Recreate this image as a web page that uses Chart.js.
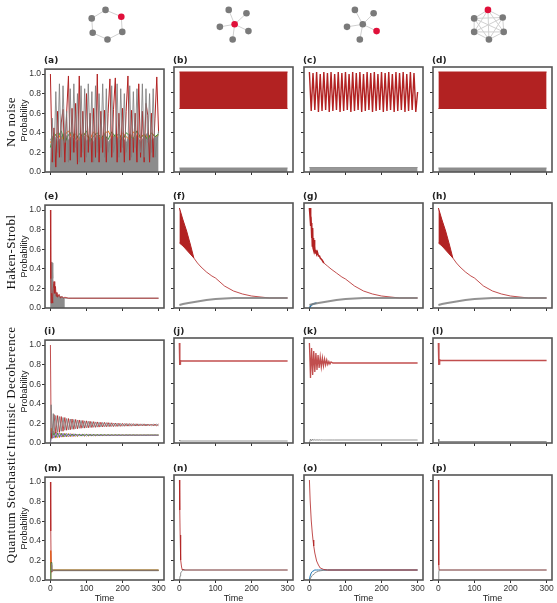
<!DOCTYPE html>
<html><head><meta charset="utf-8">
<script src="https://cdn.jsdelivr.net/npm/chart.js@4"></script>
<style>
body{margin:0;width:557px;height:603px;position:relative;background:#fff;overflow:hidden;font-family:'DejaVu Sans'}
canvas{position:absolute}
.lab{position:absolute;font:bold 9px 'DejaVu Sans';color:#222}
.row{position:absolute;font:13px 'Liberation Serif';color:#111;letter-spacing:0.4px;transform:rotate(-90deg);white-space:nowrap;width:160px;height:16px;line-height:16px;text-align:center}
</style></head><body>
<canvas id="icons" width="557" height="52" style="left:0;top:0"></canvas>
<script>
// ---- data ----
const X_TICKS = [0, 100, 200, 300];
const Y_TICKS = [0, 0.2, 0.4, 0.6, 0.8, 1.0];
const ROW_TITLES = ['No noise', 'Haken-Strobl', 'Intrinsic Decoherence', 'Quantum Stochastic'];
const PANEL_LABELS = ['(a)','(b)','(c)','(d)','(e)','(f)','(g)','(h)','(i)','(j)','(k)','(l)','(m)','(n)','(o)','(p)'];

// graph icons: node positions and edges
const ringNodes = [[103,7],[119,15],[120,33],[105,42],[90,34],[89,17]];
const ringEdges = [[0,1],[1,2],[2,3],[3,4],[4,5],[5,0]];
const ringRed = 1;
const starNodes = [[234,24],[228,7],[246,11],[219,27],[248,32],[232,42]];
const starEdges = [[0,1],[0,2],[0,3],[0,4],[0,5]];
const starRed = 0;
const leafNodes = [[364,24],[356,7],[375,11],[348,27],[378,32],[361,42]];
const leafEdges = [[0,1],[0,2],[0,3],[0,4],[0,5]];
const leafRed = 4;
const fullNodes = [[491,7],[506,16],[507,33],[492,42],[477,33],[477,17]];
const fullEdges = [[0,1],[0,2],[0,3],[0,4],[0,5],[1,2],[1,3],[1,4],[1,5],[2,3],[2,4],[2,5],[3,4],[3,5],[4,5]];
const fullRed = 0;

const T5 = [0,5,10,15,20,25,30,35,40,45,50,55,60,65,70,75,80,85,90,95,100,105,110,115,120,125,130,135,140,145,150,155,160,165,170,175,180,185,190,195,200,205,210,215,220,225,230,235,240,245,250,255,260,265,270,275,280,285,290,295,300];
const T10 = [0,10,20,30,40,50,60,70,80,90,100,110,120,130,140,150,160,170,180,190,200,210,220,230,240,250,260,270,280,290,300];

// (a)
const redA = [1.0,0.1,0.45,0.05,0.62,0.15,0.5,0.64,0.1,0.6,0.98,0.12,0.65,0.2,0.7,0.08,0.98,0.15,0.62,0.1,0.8,0.2,0.6,0.1,0.65,0.15,1.0,0.1,0.62,0.2,0.63,0.1,0.6,0.95,0.15,0.64,0.96,0.1,0.6,0.2,0.65,0.1,0.62,0.98,0.12,0.63,0.2,0.6,0.1,0.9,0.15,0.62,0.1,0.7,0.58,0.1,0.6,0.15,0.55,0.97,0.4];
const grayA = [0.0,0.55,0.1,0.82,0.2,0.9,0.15,0.88,0.3,0.62,0.1,0.85,0.2,0.9,0.25,0.8,0.1,0.88,0.2,0.85,0.15,0.9,0.3,0.82,0.1,0.88,0.2,0.8,0.25,0.9,0.15,0.85,0.2,0.3,0.88,0.2,0.3,0.9,0.15,0.85,0.25,0.8,0.2,0.3,0.88,0.15,0.82,0.25,0.85,0.3,0.2,0.9,0.15,0.85,0.3,0.8,0.2,0.85,0.15,0.3,0.42];
const grayFillA = [0.33,0.38,0.3,0.36,0.4,0.32,0.37,0.29,0.35,0.4,0.31,0.36,0.3,0.38,0.33,0.4,0.3,0.35,0.38,0.32,0.36,0.29,0.39,0.33,0.37,0.3,0.36,0.4,0.32,0.35,0.38];
const orangeA = [0.3,0.36,0.4,0.33,0.38,0.42,0.35,0.39,0.32,0.4,0.37,0.34,0.41,0.36,0.33,0.39,0.42,0.35,0.38,0.34,0.4,0.36,0.33,0.41,0.37,0.35,0.39,0.34,0.4,0.36,0.38];
const greenA = [0.25,0.4,0.35,0.42,0.3,0.38,0.41,0.33,0.39,0.36,0.42,0.31,0.37,0.4,0.35,0.38,0.33,0.41,0.36,0.39,0.32,0.4,0.37,0.34,0.42,0.35,0.38,0.33,0.4,0.36,0.39];
// (b), (d): bands
const TB = [0, 300];
const bandTopB = [1.0, 1.0];
const bandLowB = [0.635, 0.635];
const grayBandB = [0.04, 0.04];
// (c)
const redC = [1.0,0.61,0.99,0.62,1.0,0.6,0.98,0.61,1.0,0.62,0.99,0.6,1.0,0.61,0.98,0.62,1.0,0.6,0.99,0.61,1.0,0.62,0.98,0.6,1.0,0.61,0.99,0.62,1.0,0.6,0.98,0.61,1.0,0.62,0.99,0.6,1.0,0.61,0.98,0.62,1.0,0.6,0.99,0.61,1.0,0.62,0.98,0.6,1.0,0.61,0.99,0.62,1.0,0.6,0.98,0.61,1.0,0.62,0.99,0.6,0.8];
const grayBandC = [0.045, 0.045];

// (e)
const TE = [0,1,2,3,4,5,6,7,8,10,12,14,16,18,20,24,28,32,36,40,50,60,300];
const redE = [1.0,0.3,0.05,0.1,0.15,0.1,0.05,0.12,0.2,0.27,0.15,0.22,0.12,0.16,0.11,0.14,0.1,0.12,0.1,0.11,0.1,0.1,0.1];
const TEenv = [0,1,2,3,4,5,6,7,8,10,12,14,16,18,20,24,28,32,36,40];
const grayEnvE = [0,0.45,0.46,0.45,0.47,0.46,0.4,0.3,0.25,0.22,0.2,0.17,0.15,0.14,0.13,0.12,0.115,0.11,0.105,0.1];
const TEline = [40, 300];
const grayLineE = [0.1, 0.1];
// (f), (h)
const TFband = [0,10,20,30,40];
const bandTopF = [1.0,0.88,0.77,0.64,0.5];
const bandLowF = [0.65,0.62,0.58,0.54,0.5];
const TFtail = [40,50,60,75,90,100,125,150,175,200,250,300];
const redFtail = [0.5,0.45,0.41,0.36,0.32,0.3,0.22,0.17,0.14,0.12,0.1,0.1];
const TFgray = [0,10,25,50,75,100,150,200,300];
const grayF = [0.03,0.04,0.05,0.065,0.08,0.09,0.1,0.1,0.1];
// (g)
const TG = [0,2,3,4,5,6,7,8,9,10,11,12,13,14,15,16,18,20,22,25,28,30,35,40];
const redG = [1.0,0.9,1.0,0.82,0.85,0.7,0.83,0.62,0.8,0.6,0.7,0.58,0.68,0.56,0.62,0.55,0.58,0.54,0.56,0.52,0.52,0.5,0.48,0.45];
const TGtail = [40,50,60,75,90,100,125,150,175,200,250,300];
const redGtail = [0.45,0.42,0.39,0.35,0.31,0.29,0.22,0.17,0.14,0.12,0.1,0.1];
const TGblue = [0,5,10,20];
const blueG = [0.0,0.03,0.04,0.05];

// (i)
const TI = [0,2,4,6,8,10,15,20,25,30,35,40,45,50,55,60,65,70,75,80,85,90,95,100,105,110,115,120,125,130,135,140,145,150,155,160,165,170,175,180,185,190,195,200,205,210,215,220,225,230,235,240,245,250,255,260,265,270,275,280,285,290,295,300];
const redI = [1.0,0.1,0.05,0.15,0.2,
  0.29,0.1,0.28,0.11,0.27,0.12,0.26,0.13,0.25,0.135,0.245,0.14,0.24,0.145,0.235,0.15,0.23,0.152,0.226,0.155,0.222,0.158,0.218,0.16,0.215,0.162,0.212,0.164,0.21,0.166,0.208,0.167,0.206,0.168,0.204,0.169,0.202,0.17,0.2,0.171,0.199,0.172,0.198,0.172,0.197,0.173,0.196,0.173,0.195,0.174,0.195,0.174,0.194,0.175,0.194,0.175,0.193,0.175,0.193];
const grayI = [0.0,0.39,0.39,0.05,0.3,
  0.1,0.28,0.11,0.27,0.12,0.26,0.13,0.25,0.135,0.245,0.14,0.24,0.145,0.235,0.15,0.23,0.152,0.226,0.155,0.222,0.158,0.218,0.16,0.215,0.162,0.212,0.164,0.21,0.166,0.208,0.167,0.206,0.168,0.204,0.169,0.202,0.17,0.2,0.171,0.199,0.172,0.198,0.172,0.197,0.173,0.196,0.173,0.195,0.174,0.195,0.174,0.194,0.175,0.194,0.175,0.193,0.175,0.193,0.176];
const orangeI = [0.0,0.15,0.1,0.05,0.12,
  0.11,0.05,0.105,0.055,0.1,0.06,0.098,0.062,0.096,0.064,0.094,0.066,0.092,0.068,0.09,0.07,0.089,0.071,0.088,0.072,0.087,0.073,0.086,0.074,0.085,0.075,0.085,0.075,0.084,0.076,0.084,0.076,0.083,0.077,0.083,0.077,0.083,0.077,0.082,0.078,0.082,0.078,0.082,0.078,0.082,0.078,0.081,0.079,0.081,0.079,0.081,0.079,0.081,0.079,0.081,0.079,0.081,0.079,0.081];
const purpleI = [0.0,0.05,0.12,0.1,0.06,
  0.05,0.11,0.055,0.105,0.06,0.1,0.062,0.098,0.064,0.096,0.066,0.094,0.068,0.092,0.07,0.09,0.071,0.089,0.072,0.088,0.073,0.087,0.074,0.086,0.075,0.085,0.075,0.085,0.076,0.084,0.076,0.084,0.077,0.083,0.077,0.083,0.077,0.083,0.078,0.082,0.078,0.082,0.078,0.082,0.078,0.082,0.079,0.081,0.079,0.081,0.079,0.081,0.079,0.081,0.079,0.081,0.079,0.081,0.079];
const greenI = [0.0,0.1,0.05,0.12,0.08,
  0.1,0.06,0.1,0.065,0.097,0.066,0.095,0.068,0.093,0.07,0.091,0.071,0.09,0.072,0.089,0.073,0.088,0.074,0.087,0.075,0.086,0.075,0.086,0.076,0.085,0.076,0.085,0.077,0.084,0.077,0.084,0.077,0.083,0.078,0.083,0.078,0.083,0.078,0.082,0.078,0.082,0.079,0.082,0.079,0.082,0.079,0.081,0.079,0.081,0.079,0.081,0.079,0.081,0.08,0.081,0.08,0.081,0.08,0.081];
// (j)
const TJ = [0,0.5,1,1.5,2,2.5,3,300];
const redJ = [1.0,0.85,0.78,0.82,0.79,0.83,0.82,0.82];
const grayJ = [0.03,0.02,0.03,0.02,0.02,0.02,0.02,0.02];
// (k)
const TK = [0,3,6,9,12,15,18,21,24,27,30,33,36,39,42,45,48,51,54,57,60,65,70,300];
const redK = [1.0,0.65,0.95,0.68,0.92,0.71,0.9,0.73,0.88,0.75,0.86,0.76,0.85,0.77,0.84,0.78,0.83,0.785,0.815,0.79,0.81,0.8,0.8,0.8];
const grayK = [0.0,0.04,0.02,0.04,0.025,0.035,0.027,0.033,0.028,0.032,0.029,0.031,0.03,0.03,0.03,0.03,0.03,0.03,0.03,0.03,0.03,0.03,0.03,0.03];
// (l)
const TL = [0,1,1.5,2,2.5,3,3.5,4,300];
const redL = [1.0,0.78,0.84,0.79,0.84,0.8,0.83,0.825,0.825];
const grayL = [0.04,0.01,0.02,0.015,0.016,0.015,0.015,0.015,0.015];
// (m)
const TM = [0,1,2,3,4,5,6,8,10,300];
const redM = [1.0,0.5,0.15,0.08,0.1,0.09,0.1,0.1,0.1,0.1];
const orangeM = [0,0.3,0.1,0.08,0.1,0.1,0.1,0.1,0.1,0.1];
const greenM = [0,0.1,0.18,0.12,0.09,0.1,0.1,0.1,0.1,0.1];
const grayM = [0,0.05,0.1,0.17,0.12,0.09,0.1,0.095,0.095,0.095];
// (n)
const TN = [0,1,2,3,4,6,8,10,12,300];
const redN = [1.0,0.7,0.45,0.3,0.2,0.13,0.1,0.11,0.1,0.1];
const grayN = [0,0.02,0.04,0.06,0.07,0.085,0.09,0.1,0.1,0.1];
// (o)
const TO = [0,2,5,8,10,12,15,20,25,30,40,50,300];
const redO = [1.0,0.8,0.6,0.47,0.4,0.34,0.27,0.19,0.15,0.12,0.105,0.1,0.1];
const blueO = [0,0.04,0.07,0.085,0.09,0.095,0.1,0.1,0.1,0.1,0.1,0.1,0.1];
const grayO = [0,0.01,0.03,0.045,0.055,0.06,0.07,0.08,0.088,0.092,0.097,0.1,0.1];
// (p)
const TP = [0,0.5,1,1.5,2,3,300];
const redP = [1.0,0.6,0.3,0.15,0.1,0.1,0.1];
const grayP = [0,0.03,0.06,0.08,0.1,0.1,0.1];

// ---- styling ----
const RED = 'rgba(178,34,34,0.8)';
const RED_SOLID = '#b22222';
const GRAY = 'rgba(127,127,127,0.85)';
const ORANGE = '#ff7f0e', GREEN = '#2ca02c', PURPLE = '#9467bd', BLUE = '#1f77b4';

const pts = (t, v) => t.map((x, i) => ({ x, y: v[i] }));
const line = (t, v, color, w = 1) => ({ data: pts(t, v), borderColor: color, borderWidth: w, fill: false });
const area = (t, v, color, fill) => ({ data: pts(t, v), borderColor: color, backgroundColor: color, borderWidth: 1, fill });

// datasets listed bottom-to-top
const panels = [
  [area(T10, grayFillA, '#8c8c8c', 'origin'), line(T10, orangeA, ORANGE), line(T10, greenA, GREEN),
   line(T5, redA, RED_SOLID), line(T5, grayA, GRAY)],
  [line(TB, bandTopB, RED_SOLID), area(TB, bandLowB, RED_SOLID, '-1'), area(TB, grayBandB, '#8c8c8c', 'origin')],
  [line(T5, redC, RED_SOLID, 1.4), area(TB, grayBandC, 'rgba(140,140,140,0.9)', 'origin')],
  [line(TB, bandTopB, RED_SOLID), area(TB, bandLowB, RED_SOLID, '-1'), area(TB, grayBandB, '#8c8c8c', 'origin')],

  [area(TEenv, grayEnvE, '#8c8c8c', 'origin'), line(TEline, grayLineE, GRAY), line(TE, redE, RED)],
  [line(TFband, bandTopF, RED_SOLID), area(TFband, bandLowF, RED_SOLID, '-1'), line(TFtail, redFtail, RED),
   line(TFgray, grayF, GRAY, 2)],
  [line(TG, redG, RED_SOLID, 1.5), line(TGtail, redGtail, RED), line(TGblue, blueG, BLUE, 1.5), line(TFgray, grayF, GRAY, 2)],
  [line(TFband, bandTopF, RED_SOLID), area(TFband, bandLowF, RED_SOLID, '-1'), line(TFtail, redFtail, RED),
   line(TFgray, grayF, GRAY, 2)],

  [line(TI, orangeI, ORANGE), line(TI, greenI, GREEN), line(TI, purpleI, PURPLE), line(TI, redI, RED), line(TI, grayI, GRAY)],
  [line(TJ, redJ, RED, 1.5), line(TJ, grayJ, GRAY)],
  [line(TK, redK, RED, 1.3), line(TK, grayK, GRAY)],
  [line(TL, redL, RED, 1.5), line(TL, grayL, GRAY)],

  [line(TM, orangeM, ORANGE), line(TM, greenM, GREEN), line(TM, redM, RED), line(TM, grayM, GRAY)],
  [line(TN, redN, RED), line(TN, grayN, GRAY)],
  [line(TO, blueO, BLUE), line(TO, grayO, GRAY), line(TO, redO, RED)],
  [line(TP, redP, RED), line(TP, grayP, GRAY)],
];

// ---- layout ----
const COL_LEFT = [45, 174, 304, 433];
const ROW_TOP = [67, 203, 338, 475];
const ROW_MID = [122, 252, 388, 507];
const FW = 119, FH = 105, YW = 26, XH = 24, PT = 4, PR = 4;

const framePlugin = {
  id: 'frame',
  afterDraw(chart) {
    const { ctx, chartArea: a } = chart;
    ctx.save();
    ctx.strokeStyle = '#555';
    ctx.lineWidth = 1.6;
    ctx.strokeRect(a.left, a.top, a.right - a.left, a.bottom - a.top);
    ctx.restore();
  },
};

ROW_TITLES.forEach((txt, r) => {
  const d = document.createElement('div');
  d.className = 'row';
  d.textContent = txt;
  d.style.left = (11 - 80) + 'px';
  d.style.top = (ROW_MID[r] - 8) + 'px';
  document.body.appendChild(d);
});

panels.forEach((datasets, k) => {
  const r = Math.floor(k / 4), c = k % 4;
  // later datasets are drawn on top
  datasets.forEach((ds, i) => { ds.order = datasets.length - i; });
  const cv = document.createElement('canvas');
  cv.width = YW + FW + PR; cv.height = PT + FH + XH;
  cv.style.left = (COL_LEFT[c] - YW) + 'px';
  cv.style.top = (ROW_TOP[r] - PT) + 'px';
  document.body.appendChild(cv);
  const lab = document.createElement('div');
  lab.className = 'lab';
  lab.textContent = PANEL_LABELS[k];
  lab.style.left = (COL_LEFT[c] - 1) + 'px';
  lab.style.top = (ROW_TOP[r] - 12) + 'px';
  document.body.appendChild(lab);

  const left = c === 0, bottom = r === 3;
  new Chart(cv, {
    type: 'line',
    data: { datasets },
    options: {
      responsive: false, animation: false, events: [],
      layout: { padding: { top: PT, right: PR, left: 0, bottom: 0 } },
      plugins: { legend: { display: false }, tooltip: { enabled: false } },
      elements: { point: { radius: 0 }, line: { tension: 0 } },
      scales: {
        x: {
          type: 'linear', min: -15, max: 315,
          afterFit: (s) => { s.height = XH; },
          afterBuildTicks: (s) => { s.ticks = X_TICKS.map((value) => ({ value })); },
          ticks: { display: bottom, font: { size: 8.5 }, color: '#333', padding: 1, maxRotation: 0 },
          grid: { drawOnChartArea: false, tickLength: 3, color: '#333' },
          border: { display: false },
          title: { display: bottom, text: 'Time', font: { size: 9 }, color: '#222', padding: 0 },
        },
        y: {
          type: 'linear', min: 0, max: 1.05,
          afterFit: (s) => { s.width = YW; },
          afterBuildTicks: (s) => { s.ticks = Y_TICKS.map((value) => ({ value })); },
          ticks: { display: left, font: { size: 8.5 }, color: '#333', padding: 1, callback: (v) => v.toFixed(1) },
          grid: { drawOnChartArea: false, tickLength: 3, color: '#333' },
          border: { display: false },
          title: { display: left, text: 'Probability', font: { size: 9 }, color: '#222', padding: 0 },
        },
      },
    },
    plugins: [framePlugin],
  });
});

// ---- graph icons ----
const graphs = [
  [ringNodes, ringEdges, ringRed],
  [starNodes, starEdges, starRed],
  [leafNodes, leafEdges, leafRed],
  [fullNodes, fullEdges, fullRed],
];
const iconSets = [];
graphs.forEach(([nodes, edges, red]) => {
  edges.forEach(([i, j]) => {
    iconSets.push({ type: 'line', data: [{ x: nodes[i][0], y: nodes[i][1] }, { x: nodes[j][0], y: nodes[j][1] }],
      borderColor: '#d0d0d0', borderWidth: 1, pointRadius: 0, order: 2 });
  });
  iconSets.push({ type: 'scatter', data: nodes.map(([x, y]) => ({ x, y })),
    backgroundColor: nodes.map((_, i) => (i === red ? '#e0103a' : '#7a7a7a')),
    borderWidth: 0, pointRadius: 3.3, order: 1 });
});
new Chart(document.getElementById('icons'), {
  type: 'scatter',
  data: { datasets: iconSets },
  options: {
    responsive: false, animation: false, events: [],
    layout: { padding: 0 },
    plugins: { legend: { display: false }, tooltip: { enabled: false } },
    scales: {
      x: { type: 'linear', min: 0, max: 557, display: false },
      y: { type: 'linear', min: 0, max: 52, reverse: true, display: false },
    },
  },
});
</script>
</body></html>
